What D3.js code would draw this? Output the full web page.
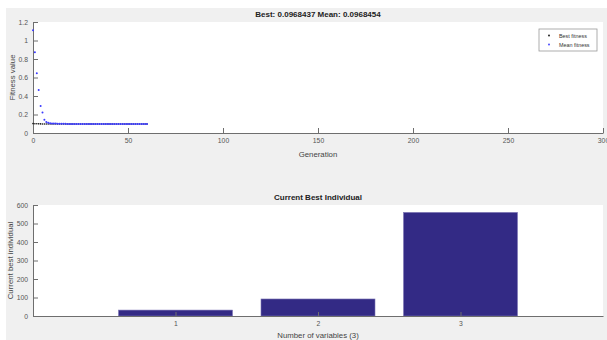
<!DOCTYPE html>
<html>
<head>
<meta charset="utf-8">
<script src="https://cdn.jsdelivr.net/npm/d3@7"></script>
<style>
  body { margin: 0; background: #fff; }
  svg { display: block; font-family: "Liberation Sans", Arial, sans-serif; }
  .axis path, .axis line { stroke: #6e6e6e; stroke-width: 1; }
  .axis text { fill: #555; font-size: 6.8px; }
</style>
</head>
<body>
<svg id="chart" width="607" height="340"></svg>
<script>
// GA run: fitness per generation
const generations = d3.range(0, 61);
const meanFitness = [
  1.11, 0.872, 0.645, 0.466, 0.292, 0.221, 0.142, 0.118, 0.110, 0.106,
  0.104, 0.103, 0.102, 0.1012, 0.1005, 0.0998, 0.0992, 0.0988, 0.0984, 0.0981,
  0.0979, 0.0977, 0.0976, 0.0975, 0.0974, 0.0973, 0.0972, 0.0972, 0.0971, 0.0971,
  0.0970, 0.0970, 0.0970, 0.0969, 0.0969, 0.0969, 0.0969, 0.0969, 0.0969, 0.0968,
  0.0968, 0.0968, 0.0968, 0.0968, 0.0968, 0.0968, 0.0968, 0.0968, 0.0968, 0.0968,
  0.0968, 0.0968, 0.0968, 0.0968, 0.0968, 0.0968, 0.0968, 0.0968, 0.0968, 0.0968,
  0.0968454
];
const bestFitness = [
  0.1015, 0.1002, 0.0995, 0.0990, 0.0985, 0.0981, 0.0978, 0.0976, 0.0974, 0.0973,
  0.0972, 0.0971, 0.0970, 0.0970, 0.0969, 0.0969, 0.0969, 0.0969, 0.0968, 0.0968,
  0.0968, 0.0968, 0.0968, 0.0968, 0.0968, 0.0968, 0.0968, 0.0968, 0.0968, 0.0968,
  0.0968, 0.0968, 0.0968, 0.0968, 0.0968, 0.0968, 0.0968, 0.0968, 0.0968, 0.0968,
  0.0968, 0.0968, 0.0968, 0.0968, 0.0968, 0.0968, 0.0968, 0.0968, 0.0968, 0.0968,
  0.0968, 0.0968, 0.0968, 0.0968, 0.0968, 0.0968, 0.0968, 0.0968, 0.0968, 0.0968,
  0.0968437
];
const genTicks = [0, 50, 100, 150, 200, 250, 300];
const fitTicks = [0, 0.2, 0.4, 0.6, 0.8, 1, 1.2];

// Current best individual
const variables = [1, 2, 3];
const bestIndividual = [32, 92, 560];
const indivTicks = [0, 100, 200, 300, 400, 500, 600];

const svg = d3.select("#chart");

// figure background
svg.append("rect").attr("x", 6).attr("y", 8).attr("width", 601).attr("height", 332).attr("fill", "#f0f0f0");

// ---------- top panel: fitness ----------
const x1 = d3.scaleLinear().domain([0, 300]).range([33, 603]);
const y1 = d3.scaleLinear().domain([0, 1.2]).range([133, 22]);

svg.append("rect").attr("x", x1(0)).attr("y", y1(1.2))
  .attr("width", x1(300) - x1(0)).attr("height", y1(0) - y1(1.2)).attr("fill", "#fff");

svg.append("g").attr("class", "axis").attr("transform", `translate(0,${y1(0)})`)
  .call(d3.axisBottom(x1).tickValues(genTicks).tickFormat(d3.format("d")).tickSizeInner(-5).tickSizeOuter(0).tickPadding(5));
svg.append("g").attr("class", "axis").attr("transform", `translate(${x1(0)},0)`)
  .call(d3.axisLeft(y1).tickValues(fitTicks).tickFormat(d => String(d)).tickSizeInner(-5).tickSizeOuter(0).tickPadding(5));

svg.append("g").selectAll("circle").data(generations).join("circle")
  .attr("cx", (g) => x1(g)).attr("cy", (g, i) => y1(bestFitness[i]))
  .attr("r", 0.8).attr("fill", "#111");
svg.append("g").selectAll("circle").data(generations).join("circle")
  .attr("cx", (g) => x1(g)).attr("cy", (g, i) => y1(meanFitness[i]))
  .attr("r", 1).attr("fill", "#3a3aff");

svg.append("text").attr("x", (x1(0) + x1(300)) / 2).attr("y", 17).attr("text-anchor", "middle")
  .attr("font-size", "8px").attr("font-weight", "bold").attr("fill", "#222")
  .text(`Best: ${bestFitness[bestFitness.length - 1]} Mean: ${meanFitness[meanFitness.length - 1]}`);
svg.append("text").attr("x", (x1(0) + x1(300)) / 2).attr("y", 157).attr("text-anchor", "middle")
  .attr("font-size", "7.8px").attr("fill", "#444").text("Generation");
svg.append("text").attr("transform", `translate(15,${(y1(0) + y1(1.2)) / 2}) rotate(-90)`)
  .attr("text-anchor", "middle").attr("font-size", "7.8px").attr("fill", "#444").text("Fitness value");

// legend
const lg = svg.append("g").attr("transform", "translate(539,29)");
lg.append("rect").attr("width", 58).attr("height", 22).attr("fill", "#fff").attr("stroke", "#999").attr("stroke-width", 0.8);
[["Best fitness", "#111"], ["Mean fitness", "#3a3aff"]].forEach(([label, c], i) => {
  lg.append("circle").attr("cx", 10).attr("cy", 6.5 + i * 9).attr("r", 0.9).attr("fill", c);
  lg.append("text").attr("x", 20).attr("y", 8.5 + i * 9).attr("font-size", "5.4px").attr("fill", "#333").text(label);
});

// ---------- bottom panel: current best individual ----------
const x2 = d3.scaleLinear().domain([0, 4]).range([33, 603]);
const y2 = d3.scaleLinear().domain([0, 600]).range([316, 205]);

svg.append("rect").attr("x", x2(0)).attr("y", y2(600))
  .attr("width", x2(4) - x2(0)).attr("height", y2(0) - y2(600)).attr("fill", "#fff");

const barW = x2(0.8) - x2(0);
svg.append("g").selectAll("rect").data(variables).join("rect")
  .attr("x", (v) => x2(v) - barW / 2)
  .attr("y", (v, i) => y2(bestIndividual[i]))
  .attr("width", barW)
  .attr("height", (v, i) => y2(0) - y2(bestIndividual[i]))
  .attr("fill", "#332a85").attr("stroke", "#7e76b5").attr("stroke-width", 0.6);

svg.append("g").attr("class", "axis").attr("transform", `translate(0,${y2(0)})`)
  .call(d3.axisBottom(x2).tickValues(variables).tickFormat(d3.format("d")).tickSizeInner(-4).tickSizeOuter(0).tickPadding(5));
svg.append("g").attr("class", "axis").attr("transform", `translate(${x2(0)},0)`)
  .call(d3.axisLeft(y2).tickValues(indivTicks).tickFormat(d3.format("d")).tickSizeInner(-5).tickSizeOuter(0).tickPadding(5));

svg.append("text").attr("x", (x2(0) + x2(4)) / 2).attr("y", 200).attr("text-anchor", "middle")
  .attr("font-size", "8px").attr("font-weight", "bold").attr("fill", "#222").text("Current Best Individual");
svg.append("text").attr("x", (x2(0) + x2(4)) / 2).attr("y", 338).attr("text-anchor", "middle")
  .attr("font-size", "7.8px").attr("fill", "#444").text(`Number of variables (${variables.length})`);
svg.append("text").attr("transform", `translate(13,${(y2(0) + y2(600)) / 2}) rotate(-90)`)
  .attr("text-anchor", "middle").attr("font-size", "7.8px").attr("fill", "#444").text("Current best individual");
</script>
</body>
</html>
